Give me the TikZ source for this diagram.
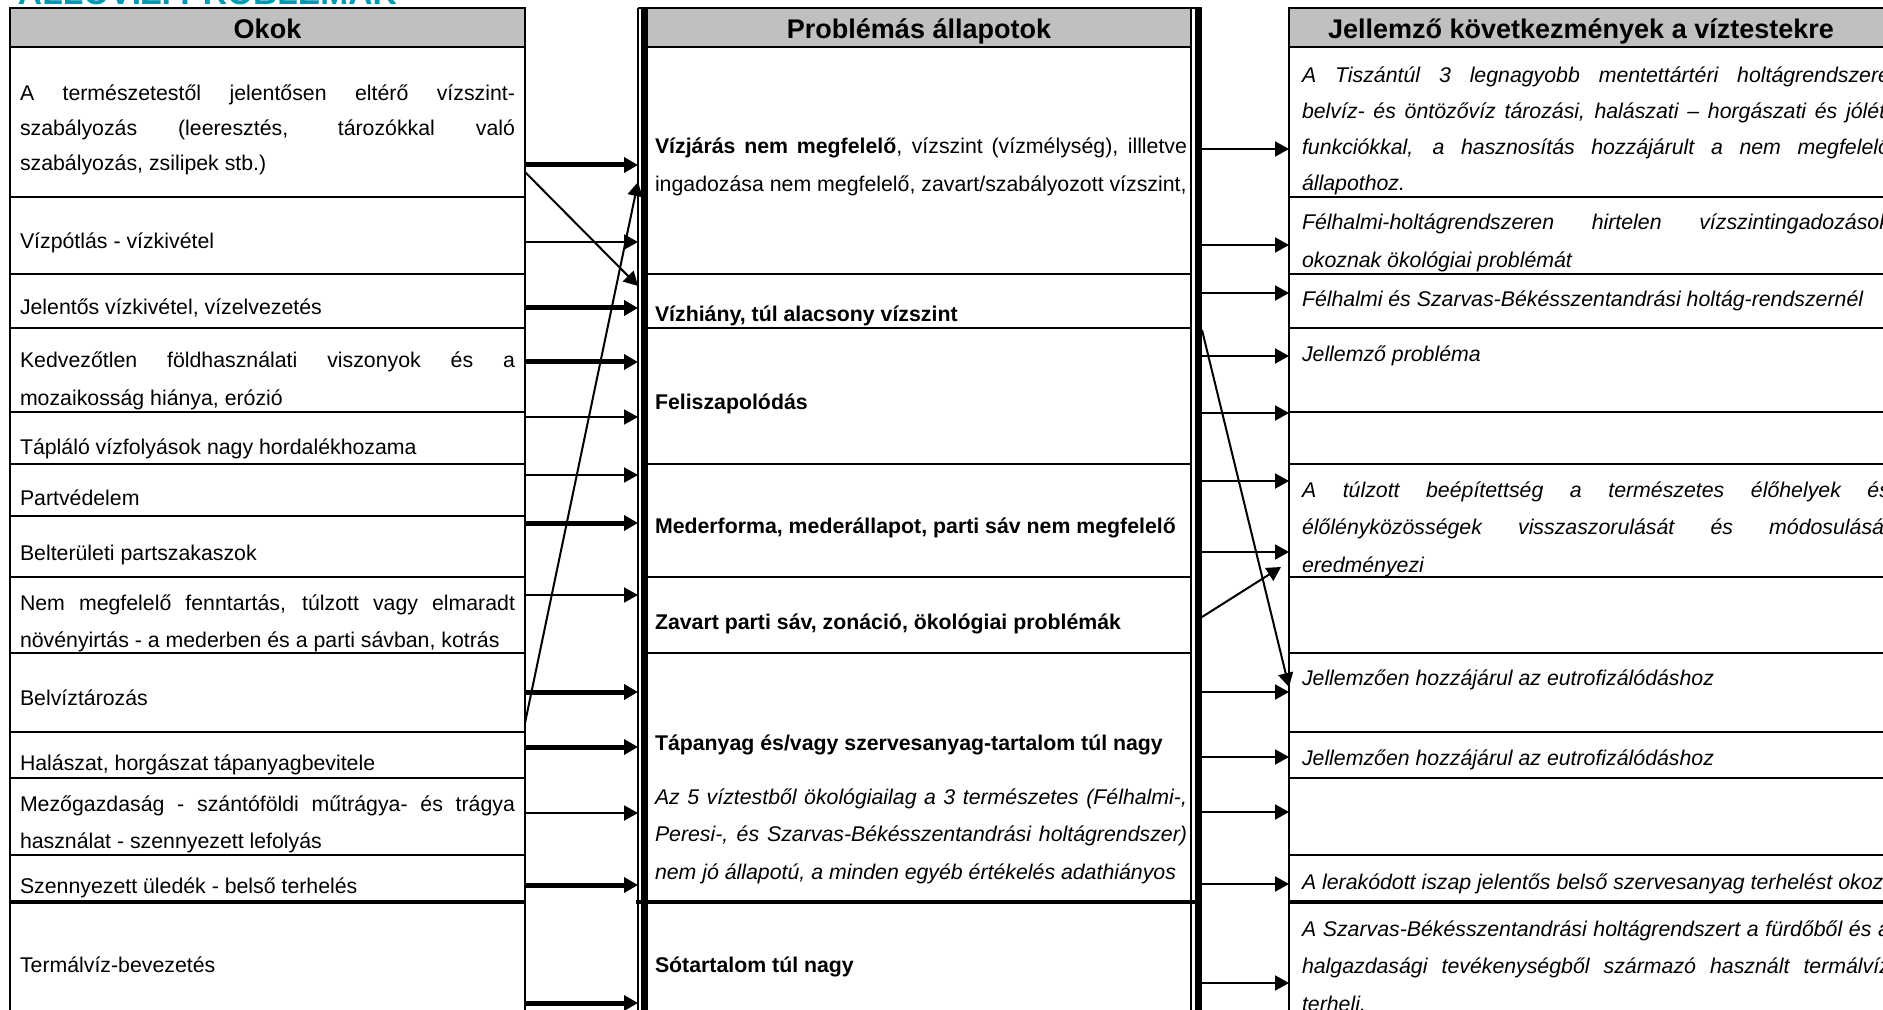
\documentclass[tikz,border=0pt]{standalone}
\usepackage{fontspec}
\setmainfont{Liberation Sans}
\usetikzlibrary{arrows.meta}
\definecolor{hdrgray}{RGB}{192,192,192}
\definecolor{titleteal}{RGB}{0,153,175}
\newlength\wL \setlength\wL{247.5pt}
\newlength\wM \setlength\wM{266pt}
\newlength\wR \setlength\wR{294pt}
\newcommand\jl[2]{\hbox{\makebox[#1][s]{#2}}}
\newcommand\pl[1]{\hbox{#1}}
\tikzset{
  every node/.style={inner sep=0pt, outer sep=0pt},
  colbox/.style={minimum height=510pt, anchor=north west},
  body/.style={anchor=base west, font=\fontsize{10.65}{18.75}\selectfont},
  bodyit/.style={anchor=base west, font=\fontsize{10.65}{18.75}\selectfont\itshape},
  bodybf/.style={anchor=base west, font=\fontsize{10.65}{18.75}\selectfont\bfseries},
  hdr/.style={anchor=base, font=\fontsize{13.5}{16}\selectfont\bfseries},
  grid/.style={line width=1pt},
  gridthick/.style={line width=2pt},
  bigarr/.style={line width=2.5pt, -{Triangle[length=7pt,width=7.5pt]}},
  smallarr/.style={line width=1pt, -{Triangle[length=7pt,width=7.5pt]}},
}
\begin{document}
\begin{tikzpicture}[x=0.5pt,y=-0.5pt]
\useasboundingbox (0,0) rectangle (1883,1010);
\clip (0,0) rectangle (1883,1010);
\node[anchor=base west, font=\fontsize{16.8}{20}\selectfont\bfseries, text=titleteal] (title) at (18,5) {ÁLLÓVÍZI PROBLÉMÁK};

% column frames
\node[colbox, minimum width=257.5pt] (okok) at (10,8) {};
\node[colbox, minimum width=282pt] (mid) at (638,8) {};
\node[colbox, minimum width=303pt] (kov) at (1289,8) {};

\fill[hdrgray] (10,8) rectangle (525,47);
\fill[hdrgray] (648,8) rectangle (1191,47);
\fill[hdrgray] (1289,8) rectangle (1895,47);

\draw[grid] (okok.north west) rectangle (okok.south east);
\draw[grid] (kov.north west) rectangle (kov.south east);
\draw[grid] (mid.north west) -- (mid.south west);
\draw[line width=3.5pt] (644.5,8) -- (644.5,1030);
\draw[grid] (1191,8) -- (1191,1030);
\draw[line width=3.5pt] (1198.5,8) -- (1198.5,1030);
\draw[grid] (mid.north west) -- (mid.north east);

\foreach \y in {47,197,274,328,412,464,516,577,653,732,778,855} \draw[grid] (10,\y) -- (525,\y);
\foreach \y in {47,274,328,464,577,653} \draw[grid] (648,\y) -- (1191,\y);
\foreach \y in {47,197,274,328,412,464,577,653,732,778,855} \draw[grid] (1289,\y) -- (1895,\y);
\draw[gridthick] (10,902) -- (525,902);
\draw[gridthick] (636,902) -- (1195,902);
\draw[gridthick] (1289,902) -- (1895,902);

% headers
\node[hdr] (hL) at (267.5,39) {Okok};
\node[hdr] (hM) at (919,39) {Problémás állapotok};
\node[hdr] (hR) at (1581,39) {Jellemző következmények a víztestekre};

% left texts
\node[body] (o1) at (20,100.5) {\vtop{\baselineskip=17.5pt\jl{\wL}{A természetestől jelentősen eltérő vízszint-}\jl{\wL}{szabályozás (leeresztés, tározókkal való}\pl{szabályozás, zsilipek stb.)}}};
\node[body] (o2) at (20,249) {Vízpótlás - vízkivétel};
\node[body] (o3) at (20,315) {Jelentős vízkivétel, vízelvezetés};
\node[body] (o4) at (20,368) {\vtop{\jl{\wL}{Kedvezőtlen földhasználati viszonyok és a}\pl{mozaikosság hiánya, erózió}}};
\node[body] (o5) at (20,454) {Tápláló vízfolyások nagy hordalékhozama};
\node[body] (o6) at (20,505) {Partvédelem};
\node[body] (o7) at (20,560) {Belterületi partszakaszok};
\node[body] (o8) at (20,610) {\vtop{\jl{\wL}{Nem megfelelő fenntartás, túlzott vagy elmaradt}\pl{növényirtás - a mederben és a parti sávban, kotrás}}};
\node[body] (o9) at (20,705) {Belvíztározás};
\node[body] (o10) at (20,770) {Halászat, horgászat tápanyagbevitele};
\node[body] (o11) at (20,811) {\vtop{\jl{\wL}{Mezőgazdaság - szántóföldi műtrágya- és trágya}\pl{használat - szennyezett lefolyás}}};
\node[body] (o12) at (20,893) {Szennyezett üledék - belső terhelés};
\node[body] (o13) at (20,972) {Termálvíz-bevezetés};

% middle texts
\node[body] (p1) at (655,154) {\vtop{\jl{\wM}{\textbf{Vízjárás nem megfelelő}, vízszint (vízmélység), illletve}\pl{ingadozása nem megfelelő, zavart/szabályozott vízszint,}}};
\node[bodybf] (p2) at (655,322) {Vízhiány, túl alacsony vízszint};
\node[bodybf] (p3) at (655,409) {Feliszapolódás};
\node[bodybf] (p4) at (655,533) {Mederforma, mederállapot, parti sáv nem megfelelő};
\node[bodybf] (p5) at (655,629) {Zavart parti sáv, zonáció, ökológiai problémák};
\node[bodybf] (p6) at (655,750) {Tápanyag és/vagy szervesanyag-tartalom túl nagy};
\node[bodyit] (p7) at (655,804) {\vtop{\jl{\wM}{Az 5 víztestből ökológiailag a 3 természetes (Félhalmi-,}\jl{\wM}{Peresi-, és Szarvas-Békésszentandrási holtágrendszer)}\pl{nem jó állapotú, a minden egyéb értékelés adathiányos}}};
\node[bodybf] (p8) at (655,972) {Sótartalom túl nagy};

% right texts
\node[bodyit] (k1) at (1302,83) {\vtop{\baselineskip=18pt\jl{\wR}{A Tiszántúl 3 legnagyobb mentettártéri holtágrendszere}\jl{\wR}{belvíz- és öntözővíz tározási, halászati – horgászati és jóléti}\jl{\wR}{funkciókkal, a hasznosítás hozzájárult a nem megfelelő}\pl{állapothoz.}}};
\node[bodyit] (k2) at (1302,229.5) {\vtop{\baselineskip=19pt\jl{\wR}{Félhalmi-holtágrendszeren hirtelen vízszintingadozások}\pl{okoznak ökológiai problémát}}};
\node[bodyit] (k3) at (1302,307) {Félhalmi és Szarvas-Békésszentandrási holtág-rendszernél};
\node[bodyit] (k4) at (1302,362) {Jellemző probléma};
\node[bodyit] (k5) at (1302,497) {\vtop{\jl{\wR}{A túlzott beépítettség a természetes élőhelyek és}\jl{\wR}{élőlényközösségek visszaszorulását és módosulását}\pl{eredményezi}}};
\node[bodyit] (k6) at (1302,685) {Jellemzően hozzájárul az eutrofizálódáshoz};
\node[bodyit] (k7) at (1302,765) {Jellemzően hozzájárul az eutrofizálódáshoz};
\node[bodyit] (k8) at (1302,889) {A lerakódott iszap jelentős belső szervesanyag terhelést okoz};
\node[bodyit] (k9) at (1302,936) {\vtop{\jl{\wR}{A Szarvas-Békésszentandrási holtágrendszert a fürdőből és a}\jl{\wR}{halgazdasági tevékenységből származó használt termálvíz}\pl{terheli.}}};

% arrows causes -> problems
\foreach \y in {165,308,362,523,692,747,885,1003}
  \draw[bigarr] (okok.east |- 0,\y) -- (mid.west |- 0,\y);
\foreach \y in {242,417,475,595,813}
  \draw[smallarr] (okok.east |- 0,\y) -- (mid.west |- 0,\y);
\draw[smallarr] (okok.east |- 0,172) -- (mid.west |- 0,286);
\draw[smallarr] (okok.east |- 0,723) -- (mid.west |- 0,182);

% arrows problems -> consequences
\foreach \y in {149,245,293,356,413,481,552,692,757,812,884,983}
  \draw[smallarr] (mid.east |- 0,\y) -- (kov.west |- 0,\y);
\coordinate (dtip) at (1281,567);
\draw[smallarr] (mid.east |- 0,617) -- (dtip);
\draw[smallarr] (mid.east |- 0,330) -- (kov.west |- 0,687);
\end{tikzpicture}
\end{document}
